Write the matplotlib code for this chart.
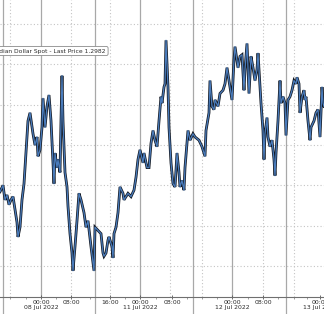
import matplotlib
matplotlib.use("Agg")
import matplotlib.pyplot as plt

# bar index along the (gap-free) intraday axis and USDCAD last price
bars = [0, 3, 5, 7, 9, 11, 13, 15, 17, 18, 20, 22, 24, 26, 28, 30, 32, 33, 35, 37,
        38, 40, 42, 43, 45, 47, 49, 51, 53, 54, 55, 57, 58, 60, 61, 62, 63, 65, 67, 68,
        70, 72, 73, 75, 77, 79, 81, 84, 86, 88, 91, 94, 95, 98, 101, 103, 104, 106, 108, 109,
        112, 113, 114, 116, 118, 120, 123, 124, 128, 131, 134, 136, 138, 140, 143, 144, 147, 149, 151, 153,
        155, 157, 159, 161, 162, 164, 165, 166, 168, 169, 171, 173, 175, 177, 179, 180, 182, 184, 185, 188,
        190, 193, 195, 199, 202, 205, 206, 209, 210, 212, 214, 215, 218, 220, 223, 225, 227, 230, 232, 234,
        235, 238, 240, 242, 244, 245, 247, 249, 251, 253, 255, 257, 258, 260, 261, 263, 264, 265, 267, 268,
        270, 272, 274, 275, 276, 278, 280, 281, 283, 285, 286, 288, 290, 292, 294, 296, 297, 299, 300, 302,
        304, 305, 306, 308, 310, 311, 314, 316, 318, 320, 322, 323, 324]
price = [1.2971, 1.2975, 1.2966, 1.2969, 1.2963, 1.2966, 1.2968, 1.2960, 1.2952, 1.2943,
         1.2949, 1.2966, 1.2976, 1.2995, 1.3015, 1.3020, 1.3011, 1.3007, 1.3000, 1.3005,
         1.2993, 1.2997, 1.3011, 1.3029, 1.3011, 1.3024, 1.3031, 1.3015, 1.2988, 1.2976,
         1.2995, 1.2986, 1.2991, 1.2983, 1.3015, 1.3043, 1.3015, 1.2983, 1.2974, 1.2962,
         1.2945, 1.2933, 1.2922, 1.2937, 1.2953, 1.2970, 1.2966, 1.2958, 1.2949, 1.2953,
         1.2937, 1.2922, 1.2949, 1.2947, 1.2945, 1.2933, 1.2931, 1.2933, 1.2941, 1.2943,
         1.2937, 1.2930, 1.2945, 1.2949, 1.2958, 1.2974, 1.2970, 1.2966, 1.2970, 1.2968,
         1.2972, 1.2980, 1.2991, 1.2997, 1.2989, 1.2995, 1.2986, 1.2986, 1.3001, 1.3009,
         1.3003, 1.2999, 1.3015, 1.3030, 1.3026, 1.3036, 1.3038, 1.3065, 1.3036, 1.3011,
         1.2989, 1.2976, 1.2974, 1.2995, 1.2983, 1.2974, 1.2978, 1.2972, 1.2986, 1.3009,
         1.3003, 1.3007, 1.3005, 1.3003, 1.2999, 1.2993, 1.3009, 1.3020, 1.3040, 1.3024,
         1.3022, 1.3028, 1.3024, 1.3032, 1.3034, 1.3038, 1.3048, 1.3036, 1.3028, 1.3053,
         1.3061, 1.3048, 1.3055, 1.3056, 1.3034, 1.3047, 1.3063, 1.3032, 1.3055, 1.3048,
         1.3040, 1.3047, 1.3057, 1.3036, 1.3026, 1.3009, 1.2991, 1.3007, 1.3017, 1.3005,
         1.2999, 1.3003, 1.2991, 1.2981, 1.2995, 1.3015, 1.3040, 1.3026, 1.3030, 1.3026,
         1.3006, 1.3028, 1.3030, 1.3034, 1.3040, 1.3038, 1.3042, 1.3038, 1.3020, 1.3030,
         1.3034, 1.3028, 1.3030, 1.3015, 1.3003, 1.3011, 1.3015, 1.3020, 1.3022, 1.3005,
         1.3036, 1.3026, 1.3024]

tick_pos = [41, 71, 110, 140, 172, 232, 263, 320]
tick_labels = ["00:00\n08 Jul 2022", "08:00", "16:00", "00:00\n11 Jul 2022",
               "08:00", "00:00\n12 Jul 2022", "08:00", "00:00\n13 Jul 2022"]
minor_pos = [10, 26, 56, 90, 125, 156, 187, 202, 217, 248, 278, 294, 307]
midnight_lines = [41, 140, 232]
session_lines = [2.7, 95, 193, 286]
hour_lines = [10, 71, 110, 170, 202, 263, 294]
price_grid = [1.2925, 1.2950, 1.2975, 1.3000, 1.3025, 1.3050, 1.3075]
legend_text = "Canadian Dollar Spot - Last Price 1.2982"

fig = plt.figure(figsize=(3.24, 3.14), dpi=100)
ax = fig.add_axes([0, 17 / 314, 1, 297 / 314])

for y in price_grid:
    ax.axhline(y, color="#c4c4c4", lw=0.8, ls=(0, (1, 2)), zorder=1)
for x in hour_lines:
    ax.axvline(x, color="#c4c4c4", lw=0.8, ls=(0, (1, 2)), zorder=1)
for x in midnight_lines:
    ax.axvline(x, color="#a8a8a8", lw=0.9, zorder=1)
for x in session_lines:
    ax.axvline(x, ymin=-17 / 297, ymax=1, color="#a8a8a8", lw=0.9,
               zorder=1, clip_on=False)

ax.plot(bars, price, color="#141a24", lw=2.0, zorder=3, solid_joinstyle="miter")
ax.plot(bars, price, color="#4a7cbc", lw=0.9, zorder=4)

ax.set_xlim(0, 324)
ax.set_ylim(1.29057, 1.30900)

for s in ["top", "left", "right"]:
    ax.spines[s].set_visible(False)
ax.spines["bottom"].set_color("#6f6f6f")
ax.spines["bottom"].set_linewidth(0.8)

ax.set_yticks([])
ax.set_xticks(tick_pos)
ax.set_xticklabels(tick_labels, fontsize=4.4, color="#2a2a2a", linespacing=1.15)
ax.set_xticks(minor_pos, minor=True)
ax.tick_params(axis="x", which="major", direction="inout", length=3, width=0.6,
               color="#555555", pad=0.5)
ax.tick_params(axis="x", which="minor", direction="out", length=1.5, width=0.5,
               color="#777777")

ax.text(106 / 324, 1 - 51 / 297, legend_text, transform=ax.transAxes,
        ha="right", va="center", fontsize=4.3, color="#2a2a2a", zorder=6,
        bbox=dict(boxstyle="round,pad=0.35,rounding_size=0.3", fc="white",
                  ec="#8a8a8a", lw=0.6))

fig.savefig("out.png", dpi=100)
